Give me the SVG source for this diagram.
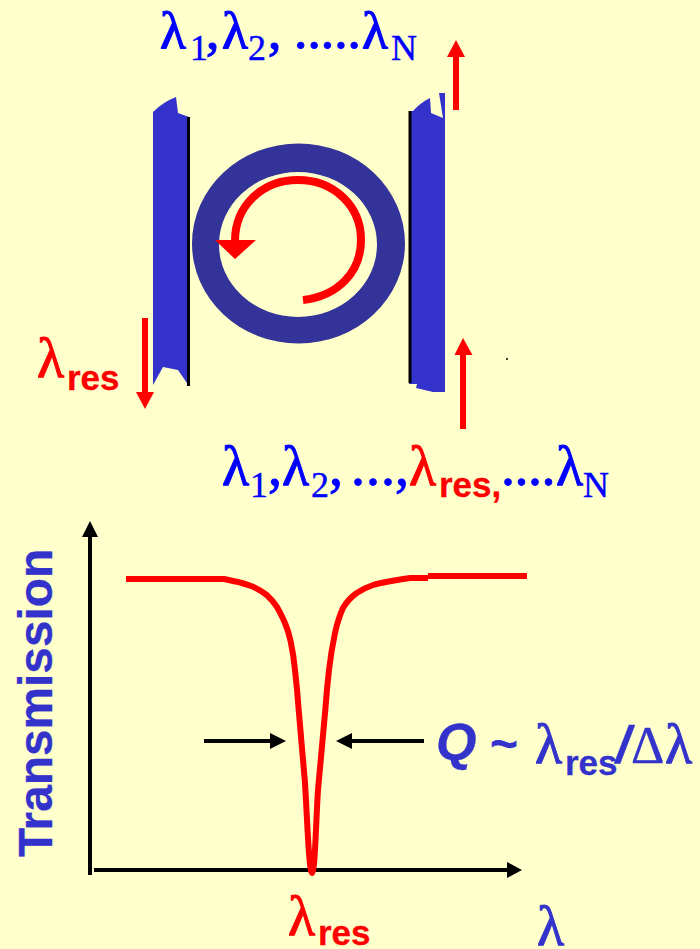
<svg xmlns="http://www.w3.org/2000/svg" width="700" height="949" viewBox="0 0 700 949">
<style>
.l{font-family:"Liberation Serif",serif;font-size:56px;stroke-width:1}
.top{font-size:53.500px;stroke-width:1.200}
.sub{font-family:"Liberation Serif",serif;font-size:36px;stroke-width:.4}
.res{font-family:"Liberation Sans",sans-serif;font-weight:700;font-size:35px}
.b{fill:#0000ff;stroke:#0000ff}.r{fill:#ff0000;stroke:#ff0000}.i{fill:#3333cc;stroke:#3333cc}
.res,.s{stroke-width:.3}
.s{font-family:"Liberation Sans",sans-serif;font-weight:700}
.t{stroke:none}
.wg{fill:#3333cc}.edge{stroke:#000;stroke-width:3;fill:none}
.red{stroke:#ff0000;fill:none;stroke-linejoin:round}.blk{stroke:#000;stroke-width:4;fill:none}
</style>
<rect width="700" height="949" fill="#ffffcc"/>
<g id="waveguide-left">
<path class="wg" d="M153 112Q163 102 176 97L178 113L189 117V386L178 370L163 367L153 385Z"/>
<path class="edge" d="M188.500 117V386"/>
</g>
<g id="waveguide-right">
<path class="wg" d="M409 111H413Q420 103 430 98L431 113L443 118L439 93H445V392H433L416 388L417 384H409Z"/>
<path class="edge" d="M410 111V383"/>
</g>
<g id="ring">
<path fill="#333399" fill-rule="evenodd" d="M192 243.500A106.500 100 0 1 1 405 243.500A106.500 100 0 1 1 192 243.500ZM219 244.500A79 72.500 0 1 0 377 244.500A79 72.500 0 1 0 219 244.500Z"/>
</g>
<g id="connectors">
<path class="red" stroke-width="8" d="M303 300C338 296 361 272 361 240C361 206 334 180 298 180C262 180 235 206 235 241"/>
<path class="t r" d="M215 240H256L235 259Z"/>
<path class="red" stroke-width="6" d="M456 110V56"/><path class="t r" d="M447 57H465L456 40Z"/>
<path class="red" stroke-width="6" d="M145 318V393"/><path class="t r" d="M136 392H154L145 409Z"/>
<path class="red" stroke-width="6" d="M463 429V354"/><path class="t r" d="M454.500 355H472.500L463 338Z"/>
<path class="blk" d="M90 875V536"/><path d="M82 537H98L90 521Z"/>
<path class="blk" d="M94 870H508"/><path d="M507 862V878L522 870Z"/>
<path class="blk" stroke-width="3" d="M204 741H271"/><path d="M270 733V749L286 741Z"/>
<path class="blk" stroke-width="3" d="M424 741H351"/><path d="M352 733V749L336 741Z"/>
<path class="red" stroke-width="6" d="M126 579H224C229 580 233 581 237 581.700C243 583 248 585 253 586.700C258 589 262 591.500 266.700 595C270.500 598.500 274 602.500 276.700 606.700C280 612 282.500 617.500 285 623C287.500 629 289.300 635 290.700 641.700C292.700 651 294 660 295 670C296.500 683 297.700 696 298.700 710L305 783C307 815 309 873 312 873C315 873 316 820 318 790L325.300 710C326.300 696 327.500 683 329 670C330.500 657 332.500 645 335 633C337 624 339.500 615.500 343 608C346.500 602 351 597 356.700 593C361.500 590 367 587 373 585C379 583 386 582 393 580.700C399 579.500 404 578.700 410 578H428"/>
<path class="red" stroke-width="6" d="M428 576H527"/>
</g>
<circle cx="507" cy="359" r="1" fill="#000"/>
<g id="label-top" class="b">
<text class="l top" x="160" y="48">λ</text><text class="sub" x="190" y="60">1</text><text class="l top" x="206" y="48">,</text>
<text class="l top" x="222" y="48">λ</text><text class="sub" x="248" y="60">2</text><text class="l top" x="268" y="48">,</text>
<text class="l top" x="294" y="48">.....</text><text class="l top" x="362" y="48">λ</text><text class="sub" x="391" y="60">N</text>
</g>
<g id="label-left" class="r"><text class="l" x="37" y="377">λ</text><text class="res" x="67" y="390">res</text></g>
<g id="label-bottom">
<g class="b"><text class="l" x="222" y="485">λ</text><text class="sub" x="250" y="497">1</text><text class="l" x="268" y="485">,</text>
<text class="l" x="282" y="485">λ</text><text class="sub" x="311" y="497">2</text><text class="l" x="329" y="485">,</text>
<text class="l" x="351" y="485" letter-spacing="1">...</text><text class="l" x="395" y="485">,</text></g>
<g class="r"><text class="l" x="409" y="485">λ</text><text class="res" x="439" y="497">res,</text></g>
<g class="b"><text class="l" x="501" y="485" letter-spacing="-.5">....</text><text class="l" x="556" y="485">λ</text><text class="sub" x="583" y="497">N</text></g>
</g>
<g id="label-transmission"><text class="i s" transform="translate(52 857) rotate(-90)" style="font-size:47.800px">Transmission</text></g>
<g id="label-q" class="i">
<text class="s" x="436" y="760" style="font-style:italic;font-size:52px">Q</text>
<text class="s" x="490" y="760" style="font-size:48px">~</text>
<text class="l" x="535" y="763">λ</text><text class="res" x="565" y="775">res</text>
<text class="s" x="616" y="763" style="font-style:italic;font-size:52px">/</text>
<text class="sub" x="631" y="763" style="font-size:52px">Δ</text><text class="l" x="665" y="763">λ</text>
</g>
<g id="label-res" class="r"><text class="l" x="288" y="935">λ</text><text class="res" x="318" y="945">res</text></g>
<g id="label-lambda" class="i"><text class="l" x="537" y="945">λ</text></g>
</svg>
